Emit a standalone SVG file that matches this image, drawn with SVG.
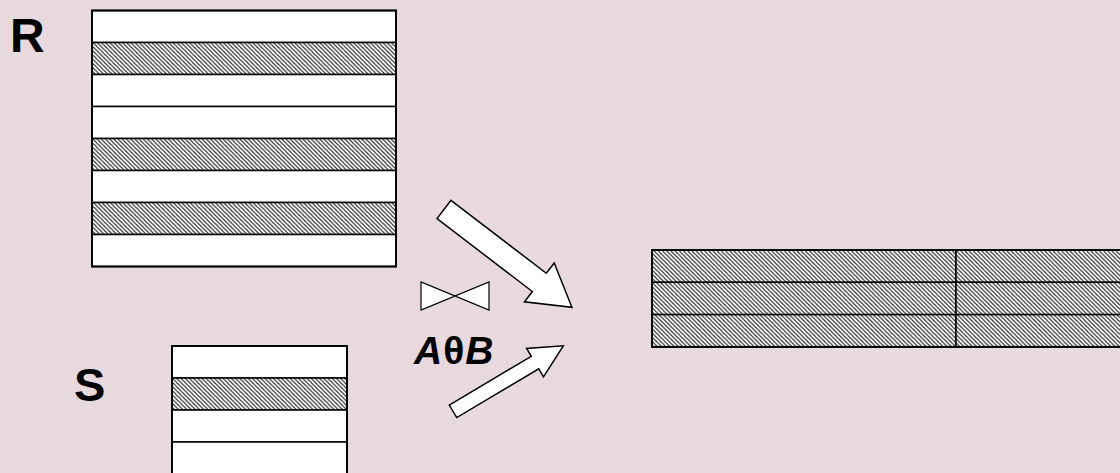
<svg xmlns="http://www.w3.org/2000/svg" width="1120" height="473" viewBox="0 0 1120 473">
  <defs>
    <pattern id="hatch" patternUnits="userSpaceOnUse" width="4.2" height="4.2">
      <rect width="4.2" height="4.2" fill="#ffffff"/>
      <path d="M-1,-1 L5.2,5.2 M-1,3.2 L1,5.2 M3.2,-1 L5.2,1" stroke="#222" stroke-width="1.05"/>
    </pattern>
    <style>
      .row { fill: #ffffff; stroke: #000; stroke-width: 1.5; }
      .hat { fill: url(#hatch); stroke: #000; stroke-width: 1.5; }
      .frame { fill: none; stroke: #000; stroke-width: 2; }
      .lbl { font-family: "Liberation Sans", Arial, sans-serif; font-weight: bold; fill: #000; }
      .arrow { fill: #ffffff; stroke: #000; stroke-width: 1.5; stroke-linejoin: miter; }
    </style>
  </defs>
  <rect width="1120" height="473" fill="#e7d9dd"/>

  <g id="R">
    <rect class="row" x="92" y="10.5" width="304" height="32"/>
    <rect class="hat" x="92" y="42.5" width="304" height="32"/>
    <rect class="row" x="92" y="74.5" width="304" height="32"/>
    <rect class="row" x="92" y="106.5" width="304" height="32"/>
    <rect class="hat" x="92" y="138.5" width="304" height="32"/>
    <rect class="row" x="92" y="170.5" width="304" height="32"/>
    <rect class="hat" x="92" y="202.5" width="304" height="32"/>
    <rect class="row" x="92" y="234.5" width="304" height="32"/>
    <rect class="frame" x="92" y="10.5" width="304" height="256"/>
    <text class="lbl" x="10" y="52" font-size="48">R</text>
  </g>

  <g id="S">
    <rect class="row" x="172" y="346" width="175" height="32"/>
    <rect class="hat" x="172" y="378" width="175" height="32"/>
    <rect class="row" x="172" y="410" width="175" height="32"/>
    <rect class="row" x="172" y="442" width="175" height="34"/>
    <rect class="frame" x="172" y="346" width="175" height="130"/>
    <text class="lbl" x="74" y="401" font-size="47">S</text>
  </g>

  <g id="join">
    <path d="M421,282 L421,310 L489,282 L489,310 Z" fill="#ffffff" stroke="#000" stroke-width="1.2" stroke-linejoin="miter"/>
    <text class="lbl" x="414" y="364" font-size="39" font-style="italic">A<tspan font-style="normal" dx="1">θ</tspan><tspan dx="1">B</tspan></text>
  </g>

  <g id="result">
    <rect class="hat" x="652" y="250" width="304" height="32.3"/>
    <rect class="hat" x="652" y="282.3" width="304" height="32.3"/>
    <rect class="hat" x="652" y="314.6" width="304" height="32.3"/>
    <rect class="hat" x="956" y="250" width="170" height="32.3"/>
    <rect class="hat" x="956" y="282.3" width="170" height="32.3"/>
    <rect class="hat" x="956" y="314.6" width="170" height="32.3"/>
    <rect class="frame" x="652" y="250" width="474" height="96.9"/>
  </g>

  <g id="connectors">
    <polygon class="arrow" transform="translate(444,209.5) rotate(37.4)" points="0,-11.5 120,-11.5 120,-24.5 161,0 120,24.5 120,11.5 0,11.5"/>
    <polygon class="arrow" transform="translate(453,411.3) rotate(-30.7)" points="0,-7.3 95.4,-7.3 95.4,-16.5 128.3,0 95.4,16.5 95.4,7.3 0,7.3"/>
  </g>
</svg>
